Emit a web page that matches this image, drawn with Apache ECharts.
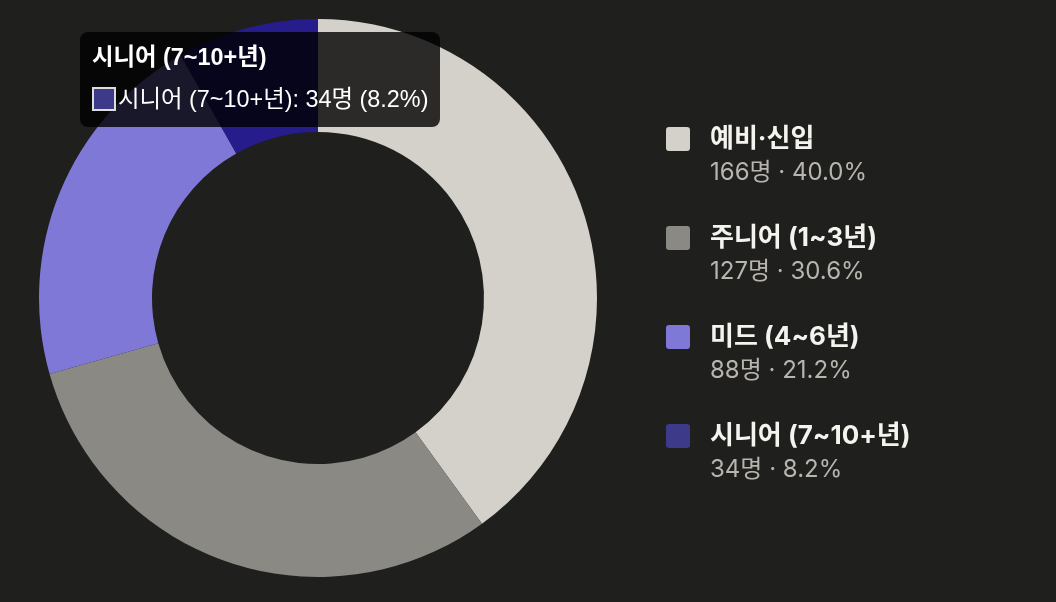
<!DOCTYPE html>
<html>
<head>
<meta charset="utf-8">
<script src="https://cdn.jsdelivr.net/npm/echarts@6/dist/echarts.min.js"></script>
<style>
  html, body { margin: 0; padding: 0; background: #1f1f1e; }
  #chart { width: 1056px; height: 602px; }
</style>
</head>
<body>
<div id="chart"></div>
<script>
const levels = ['예비·신입', '주니어 (1~3년)', '미드 (4~6년)', '시니어 (7~10+년)'];
const counts = [166, 127, 88, 34];
const shares = [40.0, 30.6, 21.2, 8.2];
const colors = ['#d4d1ca', '#8a8983', '#7f78d6', '#3d3a8a'];
const hoverColors = ['#d4d1ca', '#8a8983', '#7f78d6', '#271c8c'];

const chart = echarts.init(document.getElementById('chart'));
const roundSq = 'path://M3,0H21A3,3 0 0 1 24,3V21A3,3 0 0 1 21,24H3A3,3 0 0 1 0,21V3A3,3 0 0 1 3,0Z';

const option = {
  backgroundColor: '#1f1f1e',
  animation: false,
  tooltip: {
    trigger: 'item',
    alwaysShowContent: true,
    transitionDuration: 0,
    position: [80, 32],
    backgroundColor: 'rgba(0,0,0,0.8)',
    borderWidth: 0,
    borderRadius: 8,
    padding: [10, 12, 12, 12],
    extraCssText: 'box-shadow:none;',
    textStyle: { color: '#fff', fontSize: 23.4, fontFamily: '"Liberation Sans", "Noto Sans CJK KR", sans-serif' },
    formatter: p => {
      const i = p.dataIndex;
      return '<div style="font-weight:700;line-height:30px;margin-bottom:11px">' + p.name + '</div>' +
        '<div style="line-height:32px"><span style="display:inline-block;width:20px;height:20px;border:2px solid #ddd;background:' +
        colors[i] + ';vertical-align:-4px;margin-right:2px"></span>' + p.name + ': ' + counts[i] + '명 (' + shares[i].toFixed(1) + '%)</div>';
    }
  },
  legend: {
    orient: 'vertical',
    left: 666,
    top: 100,
    padding: 0,
    itemGap: 14,
    itemWidth: 24,
    itemHeight: 24,
    icon: roundSq,
    selectedMode: false,
    data: levels,
    formatter: name => {
      const i = levels.indexOf(name);
      return '{e| }\n{n|' + name + '}\n{v|' + counts[i] + '명 · ' + shares[i].toFixed(1) + '%}';
    },
    textStyle: {
      fontFamily: 'Inter, "Noto Sans CJK KR", sans-serif',
      rich: {
        e: { lineHeight: 30, fontSize: 10 },
        n: { fontSize: 26, fontWeight: 700, color: '#f5f3ee', lineHeight: 38, padding: [0, 0, 0, 15] },
        v: { fontSize: 24, color: '#b8b5ae', lineHeight: 30, padding: [0, 0, 0, 15] }
      }
    }
  },
  series: [{
    type: 'pie',
    center: [318, 298],
    radius: [166, 279],
    startAngle: 90,
    clockwise: true,
    label: { show: false },
    labelLine: { show: false },
    itemStyle: { borderWidth: 0 },
    emphasis: { scale: false },
    data: levels.map((n, i) => ({
      name: n,
      value: counts[i],
      itemStyle: { color: colors[i] },
      emphasis: { itemStyle: { color: hoverColors[i] } }
    }))
  }]
};
chart.setOption(option);
chart.dispatchAction({ type: 'highlight', seriesIndex: 0, dataIndex: 3 });
chart.dispatchAction({ type: 'showTip', seriesIndex: 0, dataIndex: 3 });
</script>
</body>
</html>
